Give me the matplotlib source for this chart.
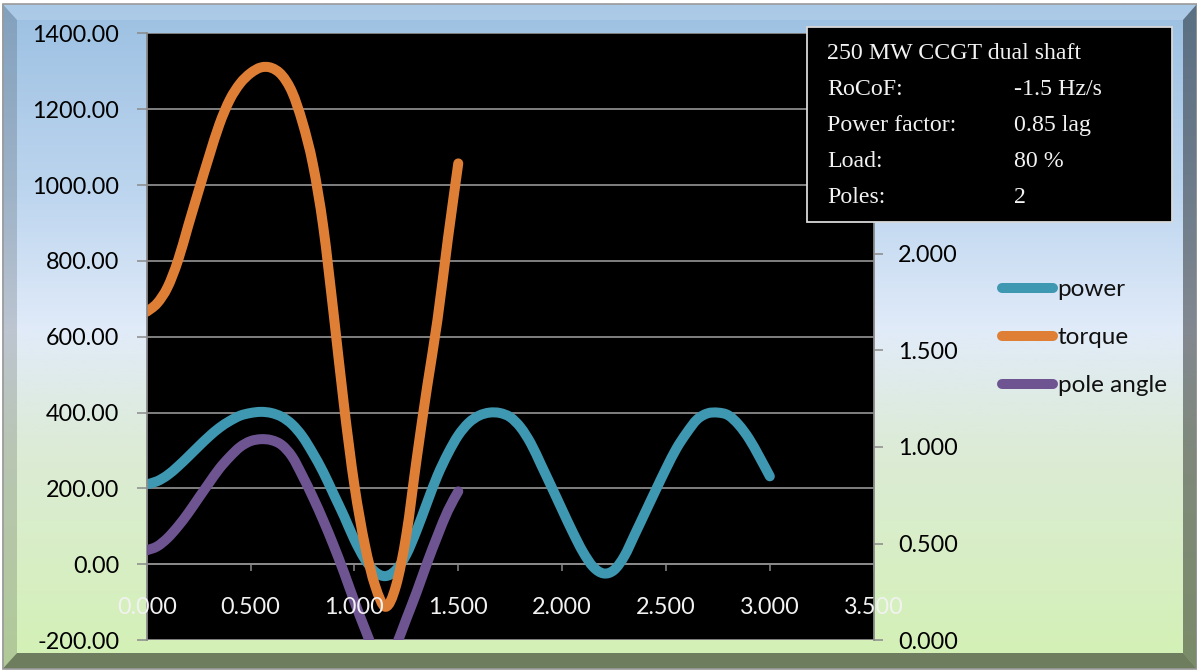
import numpy as np
import matplotlib
matplotlib.use("Agg")
import matplotlib.pyplot as plt
from matplotlib.colors import LinearSegmentedColormap
from matplotlib.patches import Polygon, Rectangle, PathPatch
from matplotlib.path import Path
from matplotlib.lines import Line2D
from matplotlib.ticker import FormatStrFormatter

# ---------------- data ----------------
time_s = [0.00, 0.05, 0.10, 0.15, 0.20, 0.25, 0.30, 0.35, 0.40, 0.45,
          0.50, 0.55, 0.60, 0.65, 0.70, 0.75, 0.80, 0.85, 0.90, 0.95,
          1.00, 1.05, 1.10, 1.15, 1.20, 1.25, 1.30, 1.35, 1.40, 1.45,
          1.50, 1.55, 1.60, 1.65, 1.70, 1.75, 1.80, 1.85, 1.90, 1.95,
          2.00, 2.05, 2.10, 2.15, 2.20, 2.25, 2.30, 2.35, 2.40, 2.45,
          2.50, 2.55, 2.60, 2.65, 2.70, 2.75, 2.80, 2.85, 2.90, 2.95,
          3.00]

power = [211, 219, 235, 258, 284, 311, 337, 360, 378, 392,
         399, 402, 399, 389, 369, 337, 293, 243, 185, 127,
         65, 14, -20, -31, -15, 26, 90, 163, 234, 292,
         340, 373, 392, 400, 399, 388, 361, 318, 261, 203,
         144, 86, 33, -7, -24, -15, 22, 79, 137, 195,
         252, 305, 347, 382, 398, 400, 393, 368, 331, 283,
         232]

time_short = time_s[:31]

torque = [666, 688, 730, 800, 893, 985, 1075, 1160, 1225, 1268,
          1295, 1310, 1309, 1290, 1245, 1165, 1055, 890, 660, 418,
          208, 52, -57, -112, -57, 78, 279, 468, 645, 858,
          1057]

pole_angle = [0.465, 0.485, 0.528, 0.588, 0.658, 0.736, 0.813, 0.888, 0.949, 1.000,
              1.030, 1.040, 1.035, 1.010, 0.950, 0.850, 0.740, 0.620, 0.490, 0.350,
              0.200, 0.060, -0.070, -0.150, -0.030, 0.110, 0.250, 0.400, 0.540, 0.670,
              0.770]

series_names = ['power', 'torque', 'pole angle']

left_ticks = [-200, 0, 200, 400, 600, 800, 1000, 1200, 1400]
right_ticks = [0.0, 0.5, 1.0, 1.5, 2.0]
x_ticks = [0.0, 0.5, 1.0, 1.5, 2.0, 2.5, 3.0, 3.5]

info_title = '250 MW CCGT dual shaft'
info_labels = ['RoCoF:', 'Power factor:', 'Load:', 'Poles:']
info_values = ['-1.5 Hz/s', '0.85 lag', '80 %', '2']

# ---------------- figure ----------------
W, H = 1197, 670
DPI = 100
plt.rcParams['font.family'] = ['Lato', 'DejaVu Sans']

fig = plt.figure(figsize=(W / DPI, H / DPI), dpi=DPI)
fig.patch.set_facecolor('white')


def fx(px):
    return px / W


def fy(py):
    return 1 - py / H


def smooth_path(xs, ys):
    """Excel-style smoothed line: cubic Bezier through every data point."""
    P = np.column_stack([xs, ys]).astype(float)
    n = len(P)
    verts = [P[0]]
    codes = [Path.MOVETO]
    for i in range(n - 1):
        p0 = P[i - 1] if i > 0 else P[i]
        p1 = P[i]
        p2 = P[i + 1]
        p3 = P[i + 2] if i + 2 < n else P[i + 1]
        verts += [p1 + (p2 - p0) / 6.0, p2 - (p3 - p1) / 6.0, p2]
        codes += [Path.CURVE4] * 3
    return Path(verts, codes)


# background gradient + bevel frame
bg = fig.add_axes([0, 0, 1, 1], zorder=-5)
bg.set_xlim(0, W)
bg.set_ylim(H, 0)
bg.axis('off')
cmap = LinearSegmentedColormap.from_list(
    'bg', [(0.0, '#9cc0e2'), (0.29, '#bed6ef'), (0.49, '#e1ebf9'),
           (0.67, '#dcebd6'), (1.0, '#d3f1b4')])
grad = np.linspace(0, 1, 512).reshape(-1, 1)
bg.imshow(grad, cmap=cmap, extent=(2, W, 669, 4), aspect='auto',
          interpolation='bilinear')
ox0, oy0, ox1, oy1 = 2.5, 4, W, 669
ix0, iy0, ix1, iy1 = 17, 20, 1183, 653
bevels = [
    ([(ox0, oy0), (ox1, oy0), (ix1, iy0), (ix0, iy0)], 'white', 0.15),
    ([(ox0, oy0), (ix0, iy0), (ix0, iy1), (ox0, oy1)], 'black', 0.16),
    ([(ox1, oy0), (ix1, iy0), (ix1, iy1), (ox1, oy1)], 'black', 0.42),
    ([(ox0, oy1), (ix0, iy1), (ix1, iy1), (ox1, oy1)], 'black', 0.48),
]
for pts, c, a in bevels:
    bg.add_patch(Polygon(pts, closed=True, facecolor=c, alpha=a,
                         edgecolor='none'))
bg.add_patch(Rectangle((ox0, oy0), ox1 - ox0, oy1 - oy0, fill=False,
                       edgecolor='#9a9a9a', lw=1.2))

# plot area
PL, PR, PT, PB = 146.7, 873.7, 33.3, 640.2
pos = [fx(PL), fy(PB), (PR - PL) / W, (PB - PT) / H]
GRID = '#8a8a8a'
C_POWER, C_TORQUE, C_POLE = '#3f98b1', '#df7f35', '#6e5592'
LW = 7.2
FS = 16.8
FS_LEG = 17.5


def add_series(axis, xs, ys, color):
    patch = PathPatch(smooth_path(xs, ys), facecolor='none', edgecolor=color,
                      lw=LW, capstyle='round', joinstyle='round', zorder=2)
    axis.add_patch(patch)
    return patch


ax = fig.add_axes(pos, zorder=1)
ax.set_facecolor('black')
add_series(ax, time_s, power, C_POWER)
add_series(ax, time_short, torque, C_TORQUE)
ax.set_xlim(0, 3.5)
ax.set_ylim(-200, 1400)
ax.set_yticks(left_ticks)
ax.yaxis.set_major_formatter(FormatStrFormatter('%.2f'))
ax.grid(axis='y', color=GRID, lw=1.3)
ax.grid(axis='x', visible=False)
ax.tick_params(axis='y', direction='out', length=7.2, width=1.1, color=GRID,
               pad=12.5, labelsize=FS, labelcolor='black')
ax.set_xticks(x_ticks)
ax.tick_params(axis='x', length=0, labelbottom=False)
for s in ['top', 'right']:
    ax.spines[s].set_visible(False)
ax.spines['left'].set_color(GRID)
ax.spines['left'].set_linewidth(1.3)
ax.spines['bottom'].set_position(('data', 0))
ax.spines['bottom'].set_color(GRID)
ax.spines['bottom'].set_linewidth(1.3)
ax.spines['bottom'].set_zorder(1.5)

# secondary axis (pole angle)
ax2 = fig.add_axes(pos, sharex=ax, zorder=2)
ax2.patch.set_visible(False)
add_series(ax2, time_short, pole_angle, C_POLE)
ax2.set_ylim(0, 3.14)
ax2.yaxis.tick_right()
ax2.set_yticks(right_ticks)
ax2.yaxis.set_major_formatter(FormatStrFormatter('%.3f'))
ax2.tick_params(axis='y', direction='out', length=6.7, width=1.1, color=GRID,
                pad=11, labelsize=FS, labelcolor='black',
                left=False, labelleft=False, right=True, labelright=True)
ax2.tick_params(axis='x', bottom=False, labelbottom=False)
for s in ['top', 'left', 'bottom']:
    ax2.spines[s].set_visible(False)
ax2.spines['right'].set_color(GRID)
ax2.spines['right'].set_linewidth(1.3)

# x labels drawn above the series
ax3 = fig.add_axes(pos, sharex=ax, zorder=3)
ax3.patch.set_visible(False)
ax3.set_ylim(-200, 1400)
ax3.set_yticks([])
for s in ['top', 'left', 'right', 'bottom']:
    ax3.spines[s].set_visible(False)
ax3.spines['bottom'].set_position(('data', 0))
ax3.xaxis.set_major_formatter(FormatStrFormatter('%.3f'))
ax3.tick_params(axis='x', direction='out', length=5, width=1.1, color=GRID,
                pad=18.4, labelsize=FS, labelcolor='#f2f2f2')
ax3.set_xlim(0, 3.5)

# overlay: info box + legend
ov = fig.add_axes([0, 0, 1, 1], zorder=10)
ov.set_xlim(0, W)
ov.set_ylim(H, 0)
ov.axis('off')
ov.add_patch(Rectangle((807, 27), 365, 195, facecolor='black',
                       edgecolor='#d9d9d9', lw=1.3))
serif = ['Liberation Serif', 'DejaVu Serif']
base0, step = 59.3, 36.0
tkw = dict(fontfamily=serif, fontsize=17.2, color='#f2f2f2', va='baseline',
           ha='left')
ov.text(827, base0, info_title, **tkw)
for i, (lab, val) in enumerate(zip(info_labels, info_values)):
    yb = base0 + step * (i + 1)
    ov.text(827, yb, lab, **tkw)
    ov.text(1014, yb, val, **tkw)

handles = [Line2D([], [], color=c, lw=LW, solid_capstyle='round')
           for c in (C_POWER, C_TORQUE, C_POLE)]
leg = ov.legend(handles, series_names, loc='upper left',
                bbox_to_anchor=(1001.7, 279.0), bbox_transform=ov.transData,
                frameon=False, borderpad=0, borderaxespad=0,
                handlelength=2.1, handletextpad=0.2, labelspacing=1.12,
                fontsize=FS_LEG)
for t in leg.get_texts():
    t.set_color('#111111')

fig.savefig('out.png', dpi=DPI)
